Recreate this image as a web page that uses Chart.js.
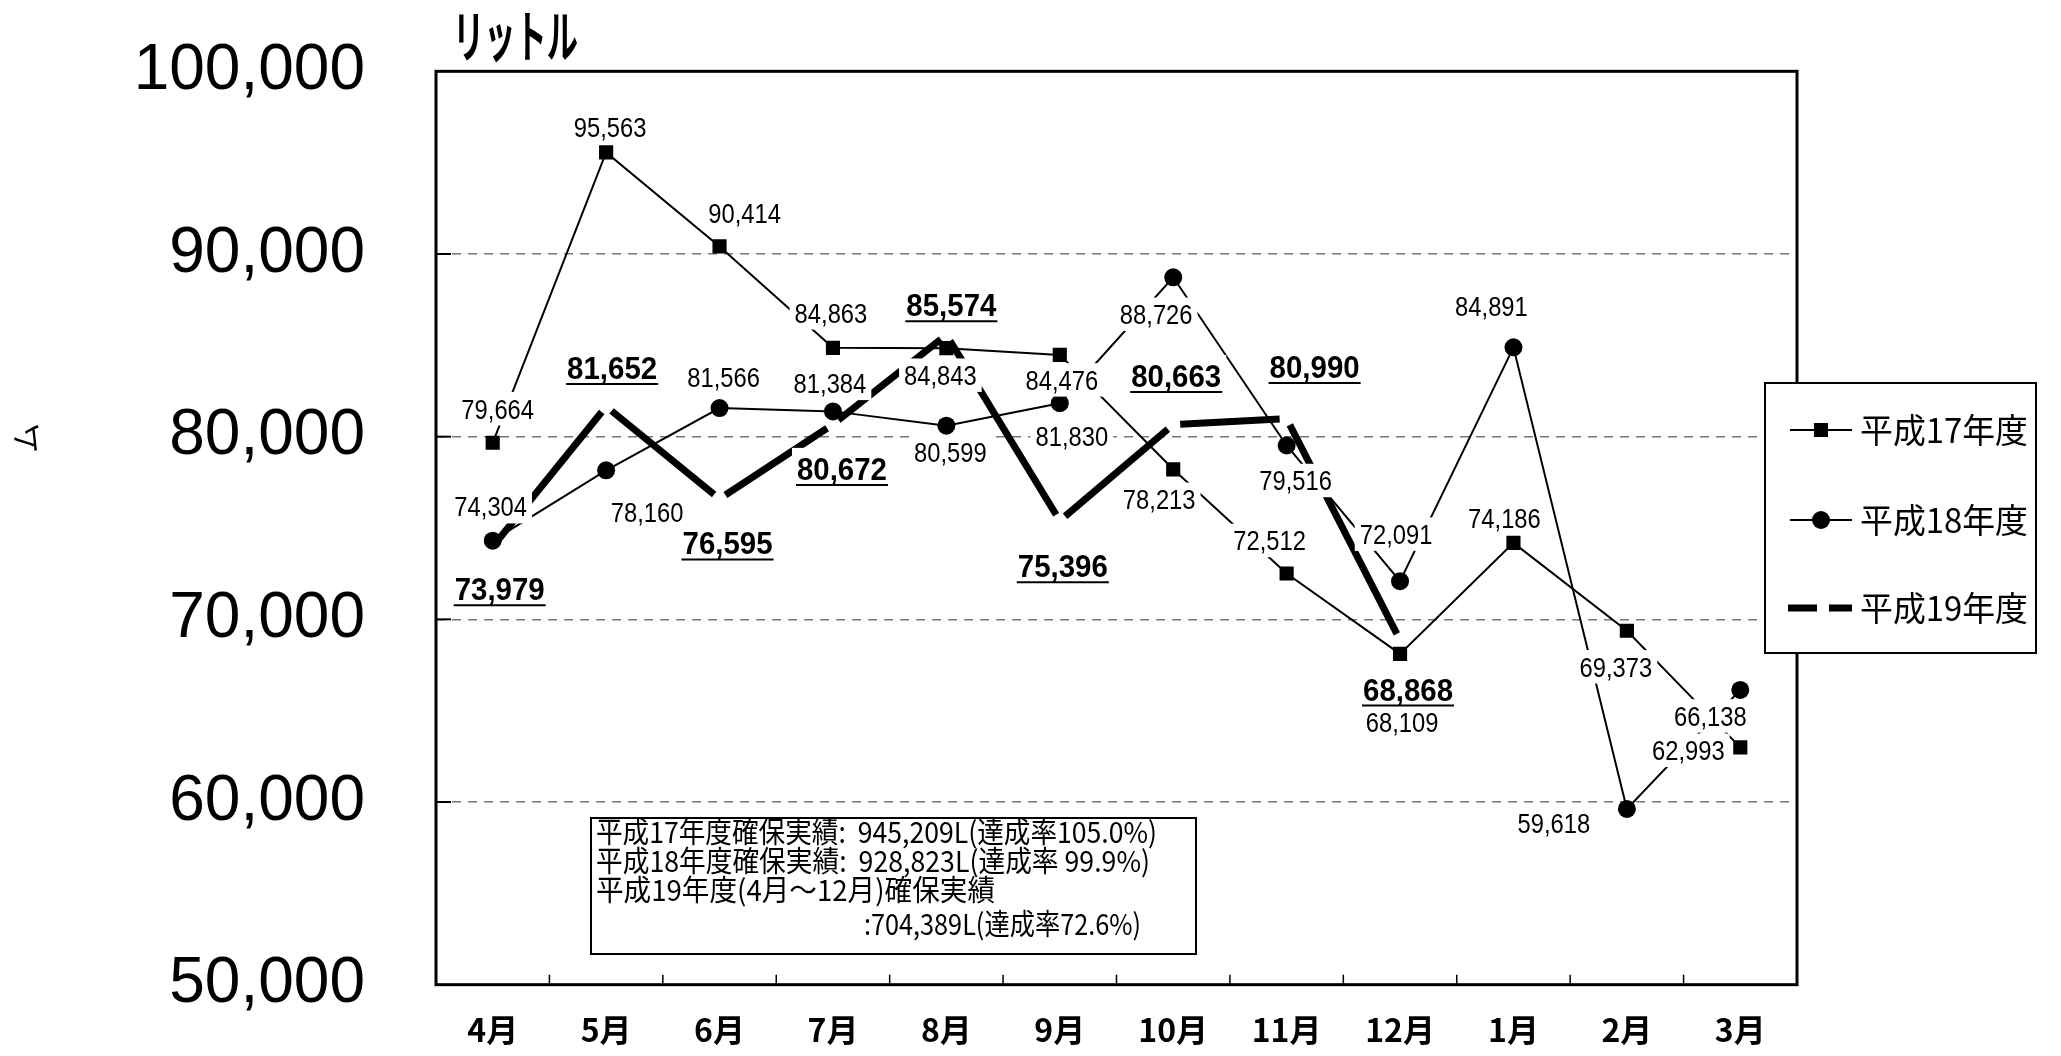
<!DOCTYPE html>
<html><head><meta charset="utf-8">
<script src="https://cdn.jsdelivr.net/npm/chart.js@4.4.1/dist/chart.umd.min.js"></script>
<style>html,body{margin:0;padding:0;background:#fff;overflow:hidden}#wrap{width:2061px;height:1056px;position:relative}</style>
</head><body><div id="wrap"><canvas id="c" width="2061" height="1056"></canvas></div>
<script>
// ---------- data ----------
const months = ['4月','5月','6月','7月','8月','9月','10月','11月','12月','1月','2月','3月'];
const h17 = [79664,95563,90414,84863,84843,84476,78213,72512,68109,74186,69373,62993];
const h18 = [74304,78160,81566,81384,80599,81830,88726,79516,72091,84891,59618,66138];
const h19 = [73979,81652,76595,80672,85574,75396,80663,80990,68868,null,null,null];
const seriesNames = ['平成17年度','平成18年度','平成19年度'];
const yMin = 50000, yMax = 100000, yStep = 10000;
const unitTitle = 'リットル';
const sideMark = 'ム';
const summaryLines = [
  '平成17年度確保実績:  945,209L(達成率105.0%)',
  '平成18年度確保実績:  928,823L(達成率 99.9%)',
  '平成19年度(4月～12月)確保実績',
  ':704,389L(達成率72.6%)'
];
// ---------- label placement (pixel offsets from the point, style only) ----------
const h17LabelOffsets = [[5,-34],[4,-25],[25,-33],[-2,-35],[-6,27],[2,25],[-14,30],[-17,-33],[2,68],[-9,-25],[-11,36],[-52,3]];
const h18LabelOffsets = [[-2,-34],[41,42],[4,-31],[-3,-28],[4,27],[12,33],[-17,37],[9,35],[-4,-47],[-22,-41],[-73,14],[-30,26]];
const h19LabelOffsets = [[7,42],[6,-39],[8,44],[9,44],[5,-30],[3,45],[3,-49],[28,-52],[8,49]];

const fmt = v => v.toLocaleString('en-US');
const CJK = "'Noto Sans CJK JP','Noto Sans CJK SC',sans-serif";
const LAT = "'Liberation Sans',Arial,sans-serif";
const DASH_GAP = 7;

function segLen(c){ return Math.hypot(c.p1.x - c.p0.x, c.p1.y - c.p0.y); }

const framePlugin = {
  id: 'frame',
  beforeDatasetsDraw(chart){
    const {ctx, chartArea:a, scales} = chart;
    ctx.save();
    ctx.strokeStyle = '#000';
    ctx.lineWidth = 2;
    for (let v = yMin + yStep; v < yMax; v += yStep){
      const y = scales.y.getPixelForValue(v);
      ctx.beginPath(); ctx.moveTo(a.left, y); ctx.lineTo(a.left + 15, y); ctx.stroke();
    }
    ctx.lineWidth = 1.5;
    for (let i = 0; i < months.length - 1; i++){
      const x = (scales.x.getPixelForValue(i) + scales.x.getPixelForValue(i+1)) / 2;
      ctx.beginPath(); ctx.moveTo(x, a.bottom); ctx.lineTo(x, a.bottom - 10); ctx.stroke();
    }
    ctx.restore();
  },
  afterDatasetsDraw(chart){
    const {ctx, chartArea:a} = chart;
    const items = [];
    const add = (di, vals, offs, bold) => {
      const meta = chart.getDatasetMeta(di);
      vals.forEach((v, i) => {
        if (v == null) return;
        const p = meta.data[i];
        items.push({x: p.x + offs[i][0], y: p.y + offs[i][1], text: fmt(v), bold});
      });
    };
    add(0, h17, h17LabelOffsets, false);
    add(1, h18, h18LabelOffsets, false);
    add(2, h19, h19LabelOffsets, true);
    const fN = {css: '27px ' + LAT, size: 27, sx: 0.88};
    const fB = {css: 'bold 32px ' + LAT, size: 32, sx: 0.92};
    ctx.save();
    items.forEach(it => {
      it.f = it.bold ? fB : fN;
      ctx.font = it.f.css;
      it.w = ctx.measureText(it.text).width * it.f.sx;
      it.h = it.f.size * 0.72;
    });
    ctx.fillStyle = '#fff';
    items.forEach(it => {
      const px = 5, py = it.bold ? 9 : 7;
      ctx.fillRect(it.x - it.w/2 - px, it.y - it.h/2 - py, it.w + 2*px, it.h + 2*py);
    });
    ctx.fillStyle = '#000';
    ctx.strokeStyle = '#000';
    items.forEach(it => {
      ctx.save();
      ctx.translate(it.x, it.y + it.h/2);
      ctx.scale(it.f.sx, 1);
      ctx.font = it.f.css;
      ctx.textAlign = 'center';
      ctx.textBaseline = 'alphabetic';
      ctx.fillText(it.text, 0, 0);
      ctx.restore();
      if (it.bold){
        ctx.lineWidth = 2;
        ctx.beginPath();
        ctx.moveTo(it.x - it.w/2 - 1, it.y + it.h/2 + 5);
        ctx.lineTo(it.x + it.w/2 + 1, it.y + it.h/2 + 5);
        ctx.stroke();
      }
    });
    ctx.lineWidth = 3;
    ctx.strokeRect(a.left, a.top, a.right - a.left, a.bottom - a.top);
    ctx.restore();
  },
  afterDraw(chart){
    const ctx = chart.ctx;
    ctx.save();
    // unit title
    ctx.fillStyle = '#000';
    ctx.font = 'bold 50px ' + CJK;
    ctx.textBaseline = 'middle';
    ctx.textAlign = 'left';
    let w = ctx.measureText(unitTitle).width;
    ctx.save(); ctx.translate(453, 36); ctx.scale(125 / w, 1.12); ctx.fillText(unitTitle, 0, 0); ctx.restore();
    // side mark
    ctx.save(); ctx.translate(26, 438); ctx.rotate(-Math.PI/2); ctx.font = '30px ' + CJK; ctx.textAlign='center'; ctx.fillText(sideMark, 0, 0); ctx.restore();

    // summary box
    ctx.fillStyle = '#fff';
    ctx.fillRect(591, 818, 605, 136);
    ctx.strokeStyle = '#000'; ctx.lineWidth = 2;
    ctx.strokeRect(591, 818, 605, 136);
    ctx.fillStyle = '#000';
    ctx.font = '29px ' + CJK;
    ctx.textBaseline = 'middle';
    const sx = [596, 596, 596, 864], ex = [1157, 1150, 995, 1141], sy = [832, 861, 890, 924];
    summaryLines.forEach((t, i) => {
      const mw = ctx.measureText(t).width;
      ctx.save(); ctx.translate(sx[i], sy[i]); ctx.scale((ex[i] - sx[i]) / mw, 1); ctx.fillText(t, 0, 0); ctx.restore();
    });

    // legend
    const L = {x: 1765, y: 383, w: 271, h: 270};
    ctx.fillStyle = '#fff'; ctx.fillRect(L.x, L.y, L.w, L.h);
    ctx.strokeStyle = '#000'; ctx.lineWidth = 2; ctx.strokeRect(L.x, L.y, L.w, L.h);
    const rows = [430, 520, 608];
    ctx.fillStyle = '#000';
    ctx.lineWidth = 2;
    ctx.beginPath(); ctx.moveTo(1790, rows[0]); ctx.lineTo(1852, rows[0]); ctx.stroke();
    ctx.fillRect(1821 - 7, rows[0] - 7, 14, 14);
    ctx.beginPath(); ctx.moveTo(1790, rows[1]); ctx.lineTo(1852, rows[1]); ctx.stroke();
    ctx.beginPath(); ctx.arc(1821, rows[1], 9, 0, Math.PI*2); ctx.fill();
    ctx.fillRect(1788, rows[2] - 3.5, 29, 7);
    ctx.fillRect(1829, rows[2] - 3.5, 23, 7);
    ctx.font = '34px ' + CJK;
    ctx.textBaseline = 'middle';
    seriesNames.forEach((n, i) => {
      const mw = ctx.measureText(n).width;
      ctx.save(); ctx.translate(1860, rows[i]); ctx.scale(168 / mw, 1); ctx.fillText(n, 0, 0); ctx.restore();
    });
    ctx.restore();
  }
};

new Chart(document.getElementById('c'), {
  type: 'line',
  data: {
    labels: months,
    datasets: [
      {label: seriesNames[0], data: h17, borderColor: '#000', backgroundColor: '#000', borderWidth: 2,
       pointStyle: 'rect', pointRadius: 10, pointBorderWidth: 0, pointBackgroundColor: '#000', order: 3},
      {label: seriesNames[1], data: h18, borderColor: '#000', backgroundColor: '#000', borderWidth: 2,
       pointStyle: 'circle', pointRadius: 9, pointBorderWidth: 0, pointBackgroundColor: '#000', order: 2},
      {label: seriesNames[2], data: h19, borderColor: '#000', borderWidth: 7, pointRadius: 0, order: 1,
       borderCapStyle: 'butt', spanGaps: false,
       segment: {
         borderDash: c => { const L = segLen(c); return [Math.max(L - 2*DASH_GAP, 1), 2*DASH_GAP]; },
         borderDashOffset: c => segLen(c) - DASH_GAP
       }}
    ]
  },
  options: {
    responsive: false, animation: false, devicePixelRatio: 1,
    layout: {padding: {left: 0, top: 68, right: 264, bottom: 0}},
    plugins: {legend: {display: false}, tooltip: {enabled: false}},
    elements: {line: {tension: 0}},
    scales: {
      x: {
        offset: true,
        grid: {display: false, drawTicks: false},
        border: {display: false},
        ticks: {color: '#000', padding: 26, font: {family: CJK, size: 32, weight: 'bold', lineHeight: 1.2}},
        afterFit: s => { s.height = 65; }
      },
      y: {
        min: yMin, max: yMax,
        grid: {drawTicks: false, lineWidth: 1.5,
               color: c => (c.tick && (c.tick.value === yMin || c.tick.value === yMax)) ? 'rgba(0,0,0,0)' : '#777'},
        border: {display: false, dash: [9, 7]},
        ticks: {stepSize: yStep, color: '#000', padding: 71, font: {family: LAT, size: 64, lineHeight: 0.01},
                callback: v => fmt(v)},
        afterFit: s => { s.width = 436; }
      }
    }
  },
  plugins: [framePlugin]
});
</script>
</body></html>
